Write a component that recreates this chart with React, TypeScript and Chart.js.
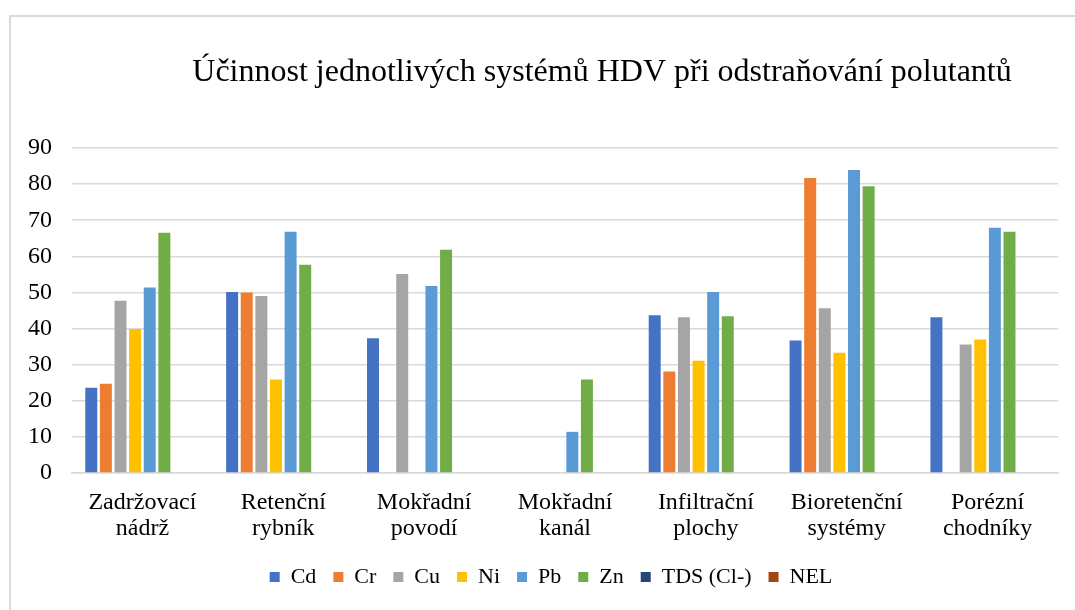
import React, { useEffect, useRef } from "react";
import { Chart, registerables } from "chart.js";

Chart.register(...registerables);

const categories: string[][] = [
  ["Zadržovací", "nádrž"],
  ["Retenční", "rybník"],
  ["Mokřadní", "povodí"],
  ["Mokřadní", "kanál"],
  ["Infiltrační", "plochy"],
  ["Bioretenční", "systémy"],
  ["Porézní", "chodníky"],
];

const cd = [23.6, 50.1, 37.3, null, 43.7, 36.7, 43.1];
const cr = [24.7, 50.0, null, null, 28.1, 81.7, null];
const cu = [47.7, 49.0, 55.1, null, 43.1, 45.6, 35.6];
const ni = [39.9, 25.9, null, null, 31.1, 33.3, 37.0];
const pb = [51.4, 66.8, 51.8, 11.4, 50.1, 83.9, 67.9];
const zn = [66.5, 57.7, 61.8, 25.9, 43.4, 79.4, 66.8];
const tds = [null, null, null, null, null, null, null];
const nel = [null, null, null, null, null, null, null];

const seriesNames = ["Cd", "Cr", "Cu", "Ni", "Pb", "Zn", "TDS (Cl-)", "NEL"];
const seriesColors = ["#4472C4", "#ED7D31", "#A5A5A5", "#FFC000", "#5B9BD5", "#70AD47", "#264478", "#9E480E"];
const seriesValues = [cd, cr, cu, ni, pb, zn, tds, nel];

const titleText = "Účinnost jednotlivých systémů HDV při odstraňování polutantů";

const FONT = "'Liberation Serif', 'Times New Roman', serif";

const blockShift = {
  id: "blockShift",
  afterLayout(chart: any) {
    const t = chart.titleBlock;
    if (t) t.left += 146;
    const l = chart.legend;
    if (l) l.left += 44;
  },
};

export default function App() {
  const ref = useRef<HTMLCanvasElement | null>(null);

  useEffect(() => {
    if (!ref.current) return;
    const chart = new Chart(ref.current, {
      type: "bar",
      data: {
        labels: categories,
        datasets: seriesNames.map((name, i) => ({
          label: name,
          data: seriesValues[i] as any,
          backgroundColor: seriesColors[i],
          borderWidth: 0,
          categoryPercentage: 0.83,
          barPercentage: 0.82,
        })),
      },
      options: {
        responsive: false,
        animation: false,
        layout: { padding: { left: 0, right: 17, top: 0, bottom: 12 } },
        plugins: {
          title: {
            display: true,
            text: titleText,
            color: "#000000",
            font: { family: FONT, size: 32, weight: "normal" },
            padding: { top: 53, bottom: 56.6 },
          },
          legend: {
            position: "bottom",
            labels: {
              color: "#000000",
              font: { family: FONT, size: 22 },
              boxWidth: 10,
              boxHeight: 10,
              padding: 17,
            },
          },
          tooltip: { enabled: false },
        },
        scales: {
          x: {
            grid: { display: false, drawTicks: false },
            border: { display: true, color: "#d9d9d9", width: 1.5 },
            ticks: {
              color: "#000000",
              font: { family: FONT, size: 24, lineHeight: 1.08 },
              padding: 17,
              maxRotation: 0,
              autoSkip: false,
            },
            afterFit(scale: any) {
              scale.height = 76;
            },
          },
          y: {
            min: 0,
            max: 90,
            grid: { color: "#d9d9d9", lineWidth: 1.5, drawTicks: false },
            border: { display: false },
            ticks: {
              stepSize: 10,
              color: "#000000",
              font: { family: FONT, size: 24 },
              padding: 20,
            },
            afterFit(scale: any) {
              scale.width = 72;
            },
          },
        },
      },
      plugins: [blockShift],
    });
    return () => chart.destroy();
  }, []);

  return (
    <div style={{ position: "fixed", left: 0, top: 0, width: 1075, height: 610, background: "#ffffff", overflow: "hidden" }}>
      <div
        style={{
          position: "absolute",
          left: 9,
          top: 15,
          width: 1100,
          height: 650,
          borderLeft: "2px solid #d9d9d9",
          borderTop: "2px solid #d9d9d9",
          boxSizing: "border-box",
        }}
      />
      <canvas ref={ref} width={1075} height={610} style={{ position: "absolute", left: 0, top: 0 }} />
    </div>
  );
}
